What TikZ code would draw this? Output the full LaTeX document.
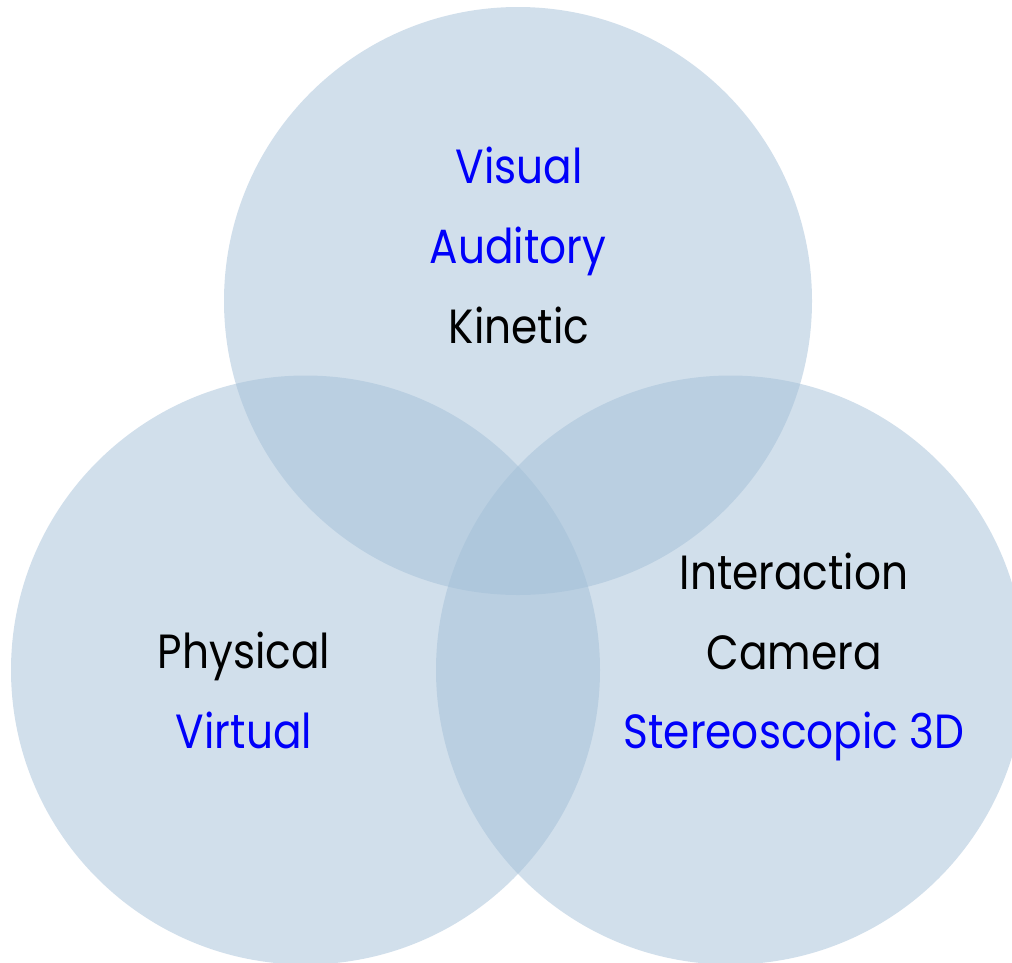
\documentclass[tikz,border=0pt]{standalone}
\usepackage{fontspec}
\setmainfont[FakeStretch=0.88]{Poppins}
\definecolor{vennfill}{RGB}{163,191,215}
\definecolor{txtblue}{RGB}{0,0,250}
\begin{document}
\begin{tikzpicture}[x=1pt,y=-1pt,
  venn/.style={fill=vennfill,fill opacity=0.5,draw=none},
  lbl/.style={anchor=base,inner sep=0pt,font=\fontsize{48}{50}\selectfont},
  blu/.style={lbl,text=txtblue},
  blk/.style={lbl,text=black}]
\useasboundingbox (0,0) rectangle (1012,962);
\clip (0,0) rectangle (1012,962);
\fill[venn] (518,301) circle (294);
\fill[venn] (305.5,670) circle (294.5);
\fill[venn] (730.5,670) circle (294.5);
\node[blu] (visual) at (519,183) {Visual};
\node[blu] (auditory) at (518,263) {Auditory};
\node[blk] (kinetic) at (519,343) {Kinetic};
\node[blk] (physical) at (244,668) {Physical};
\node[blu] (virtual) at (244,748) {Virtual};
\node[blk] (interaction) at (794,589) {Interaction};
\node[blk] (camera) at (794,669) {Camera};
\node[blu] (stereo) at (794,748) {Stereoscopic 3D};
\end{tikzpicture}
\end{document}
